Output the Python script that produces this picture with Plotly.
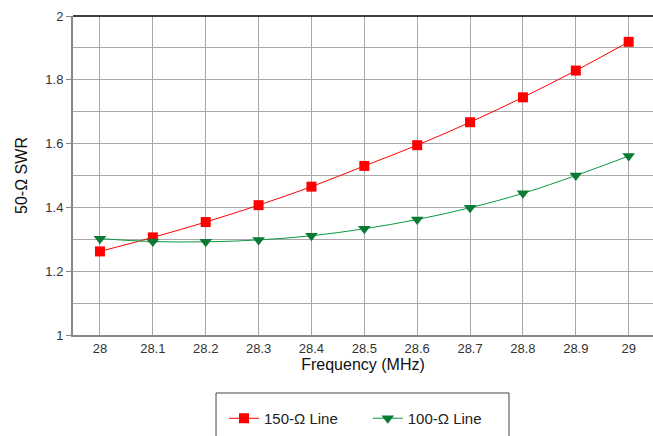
import plotly.graph_objects as go

freq = [28.0, 28.1, 28.2, 28.3, 28.4, 28.5, 28.6, 28.7, 28.8, 28.9, 29.0]
swr_150 = [1.262, 1.306, 1.354, 1.407, 1.465, 1.530, 1.595, 1.667, 1.745, 1.829, 1.919]
swr_100 = [1.302, 1.293, 1.292, 1.298, 1.311, 1.333, 1.362, 1.399, 1.444, 1.500, 1.561]
x_ticks = [28.0, 28.1, 28.2, 28.3, 28.4, 28.5, 28.6, 28.7, 28.8, 28.9, 29.0]
x_tick_labels = ["28", "28.1", "28.2", "28.3", "28.4", "28.5", "28.6", "28.7", "28.8", "28.9", "29"]
y_ticks = [1.0, 1.2, 1.4, 1.6, 1.8, 2.0]
y_tick_labels = ["1", "1.2", "1.4", "1.6", "1.8", "2"]

fig = go.Figure()
fig.add_trace(go.Scatter(
    x=freq, y=swr_150, name="150-Ω Line      ", mode="lines+markers",
    line=dict(color="#ff0000", width=1, shape="spline"),
    marker=dict(symbol="square", size=10, color="#ff0000"),
))
fig.add_trace(go.Scatter(
    x=freq, y=swr_100, name="100-Ω Line", mode="lines+markers",
    line=dict(color="#0a9a40", width=1, shape="spline"),
    marker=dict(symbol="triangle-down", size=11, color="#0a7a35"),
))

font_family = "Liberation Sans, Arial, sans-serif"
fig.update_layout(
    width=653, height=436,
    margin=dict(l=73, r=0, t=16, b=101, autoexpand=False),
    paper_bgcolor="white", plot_bgcolor="white",
    font=dict(family=font_family, color="#222", size=12),
    showlegend=True,
    legend=dict(
        orientation="h", x=0.2603, xanchor="left", y=-0.21, yanchor="top",
        borderwidth=0, bgcolor="rgba(0,0,0,0)", font=dict(size=15, color="#222"),
        itemwidth=30, tracegroupgap=0,
    ),
    xaxis=dict(
        range=[27.949, 29.046], tickvals=x_ticks, ticktext=x_tick_labels,
        showgrid=True, gridcolor="#a8a8a8", gridwidth=1,
        showline=True, linecolor="#888", linewidth=2,
        ticks="", zeroline=False, automargin=False,
        title=dict(text="Frequency (MHz)", font=dict(size=16, color="#111"), standoff=4),
        tickfont=dict(size=13, color="#333"),
    ),
    yaxis=dict(
        range=[1.0, 2.0], tickvals=y_ticks, ticktext=y_tick_labels,
        showgrid=True, gridcolor="#a8a8a8", gridwidth=1,
        minor=dict(dtick=0.1, showgrid=True, gridcolor="#a8a8a8", gridwidth=1),
        showline=True, linecolor="#888", linewidth=2,
        ticks="outside", ticklen=5, tickcolor="#888",
        zeroline=False, automargin=False,
        title=dict(text="50-Ω SWR", font=dict(size=16, color="#111"), standoff=14),
        tickfont=dict(size=13, color="#333"),
    ),
    shapes=[
        dict(type="line", xref="paper", yref="paper", x0=0, x1=1, y0=1, y1=1,
             line=dict(color="black", width=1.5)),
        dict(type="rect", xref="paper", yref="paper", x0=0.2466, x1=0.7517,
             y0=-0.1818, y1=-0.36, line=dict(color="#444", width=1),
             fillcolor="rgba(0,0,0,0)"),
    ],
)

fig.write_html("out.html", config={"displayModeBar": False},
               post_script="document.body.style.margin='0';document.body.style.overflow='hidden';")
